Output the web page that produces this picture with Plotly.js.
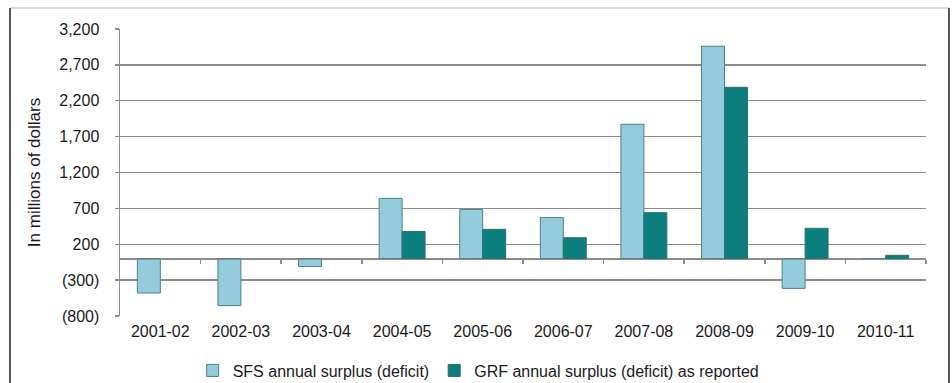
<!DOCTYPE html>
<html>
<head>
<meta charset="utf-8">
<script src="https://cdn.plot.ly/plotly-3.0.1.min.js"></script>
<style>
  html, body { margin: 0; padding: 0; background: #fff; }
  #chart { width: 952px; height: 383px; }
</style>
</head>
<body>
<div id="chart"></div>
<script>
const categories = ['2001-02', '2002-03', '2003-04', '2004-05', '2005-06', '2006-07', '2007-08', '2008-09', '2009-10', '2010-11'];
const sfsValues = [-480, -655, -110, 840, 685, 572, 1872, 2960, -415, -10];
const grfValues = [null, null, null, 378, 408, 291, 640, 2387, 422, 46];
const seriesNames = ['SFS annual surplus (deficit)', 'GRF annual surplus (deficit) as reported'];
const yTickVals = [-800, -300, 200, 700, 1200, 1700, 2200, 2700, 3200];
const yTickText = ['(800)', '(300)', '200', '700', '1,200', '1,700', '2,200', '2,700', '3,200'];
const boundaryTicks = [0.5, 1.5, 2.5, 3.5, 4.5, 5.5, 6.5, 7.5, 8.5, 9.5];

const font = 'Liberation Sans, Arial, sans-serif';

const traces = [
  {
    type: 'bar', name: seriesNames[0], x: categories, y: sfsValues,
    marker: { color: '#93CDDD', line: { color: '#4f7f88', width: 1 } }
  },
  {
    type: 'bar', name: seriesNames[1], x: categories, y: grfValues,
    marker: { color: '#0B7F7E', line: { color: '#2f6f70', width: 1 } }
  },
  {
    // invisible carrier so the zero-line axis (x2) is drawn
    type: 'scatter', mode: 'markers', x: [0], y: [0], xaxis: 'x2', yaxis: 'y',
    marker: { opacity: 0, size: 1 }, showlegend: false, hoverinfo: 'skip'
  }
];

const layout = {
  width: 952, height: 383,
  margin: { l: 120, r: 26, t: 29, b: 67, autoexpand: false },
  paper_bgcolor: '#ffffff', plot_bgcolor: '#ffffff',
  font: { family: font, size: 16, color: '#1a1a1a' },
  barmode: 'group', bargap: 0.43, bargroupgap: 0,
  showlegend: true,
  legend: {
    orientation: 'h', x: 0.445, xanchor: 'center', y: -0.19, yanchor: 'middle',
    font: { family: font, size: 16, color: '#1a1a1a' }, traceorder: 'normal',
    itemwidth: 30
  },
  xaxis: {
    type: 'category', range: [-0.5, 9.5],
    showgrid: false, showline: false, zeroline: false, ticks: '',
    ticklabelstandoff: 4,
    tickfont: { family: font, size: 16, color: '#1a1a1a' }
  },
  xaxis2: {
    overlaying: 'x', anchor: 'free', position: 0.2, range: [-0.5, 9.5],
    showgrid: false, zeroline: false, showline: true, linecolor: '#8c8c8c', linewidth: 1.5,
    ticks: 'outside', ticklen: 4, tickwidth: 1.5, tickcolor: '#8c8c8c',
    tickvals: boundaryTicks, showticklabels: false
  },
  yaxis: {
    range: [-800, 3200], tickvals: yTickVals, ticktext: yTickText,
    showgrid: true, gridcolor: '#8c8c8c', gridwidth: 1.4,
    zeroline: true, zerolinecolor: '#8c8c8c', zerolinewidth: 1.5,
    showline: true, linecolor: '#8c8c8c', linewidth: 1.5,
    ticks: 'outside', ticklen: 4, tickwidth: 1.4, tickcolor: '#8c8c8c',
    ticklabelstandoff: 12,
    tickfont: { family: font, size: 16, color: '#1a1a1a' },
    title: { text: 'In millions of dollars', standoff: 14, font: { family: font, size: 17, color: '#1a1a1a' } }
  },
  shapes: [
    { type: 'line', xref: 'paper', yref: 'paper', x0: -0.1365, x1: 1.0285, y0: 1.073, y1: 1.073, line: { color: '#cfcfcf', width: 1.5 } },
    { type: 'line', xref: 'paper', yref: 'paper', x0: -0.1365, x1: -0.1365, y0: 1.073, y1: -0.24, line: { color: '#555', width: 2 } },
    { type: 'line', xref: 'paper', yref: 'paper', x0: 1.0285, x1: 1.0285, y0: 1.073, y1: -0.24, line: { color: '#555', width: 2 } }
  ]
};

Plotly.newPlot('chart', traces, layout, { displayModeBar: false, staticPlot: true });
</script>
</body>
</html>
